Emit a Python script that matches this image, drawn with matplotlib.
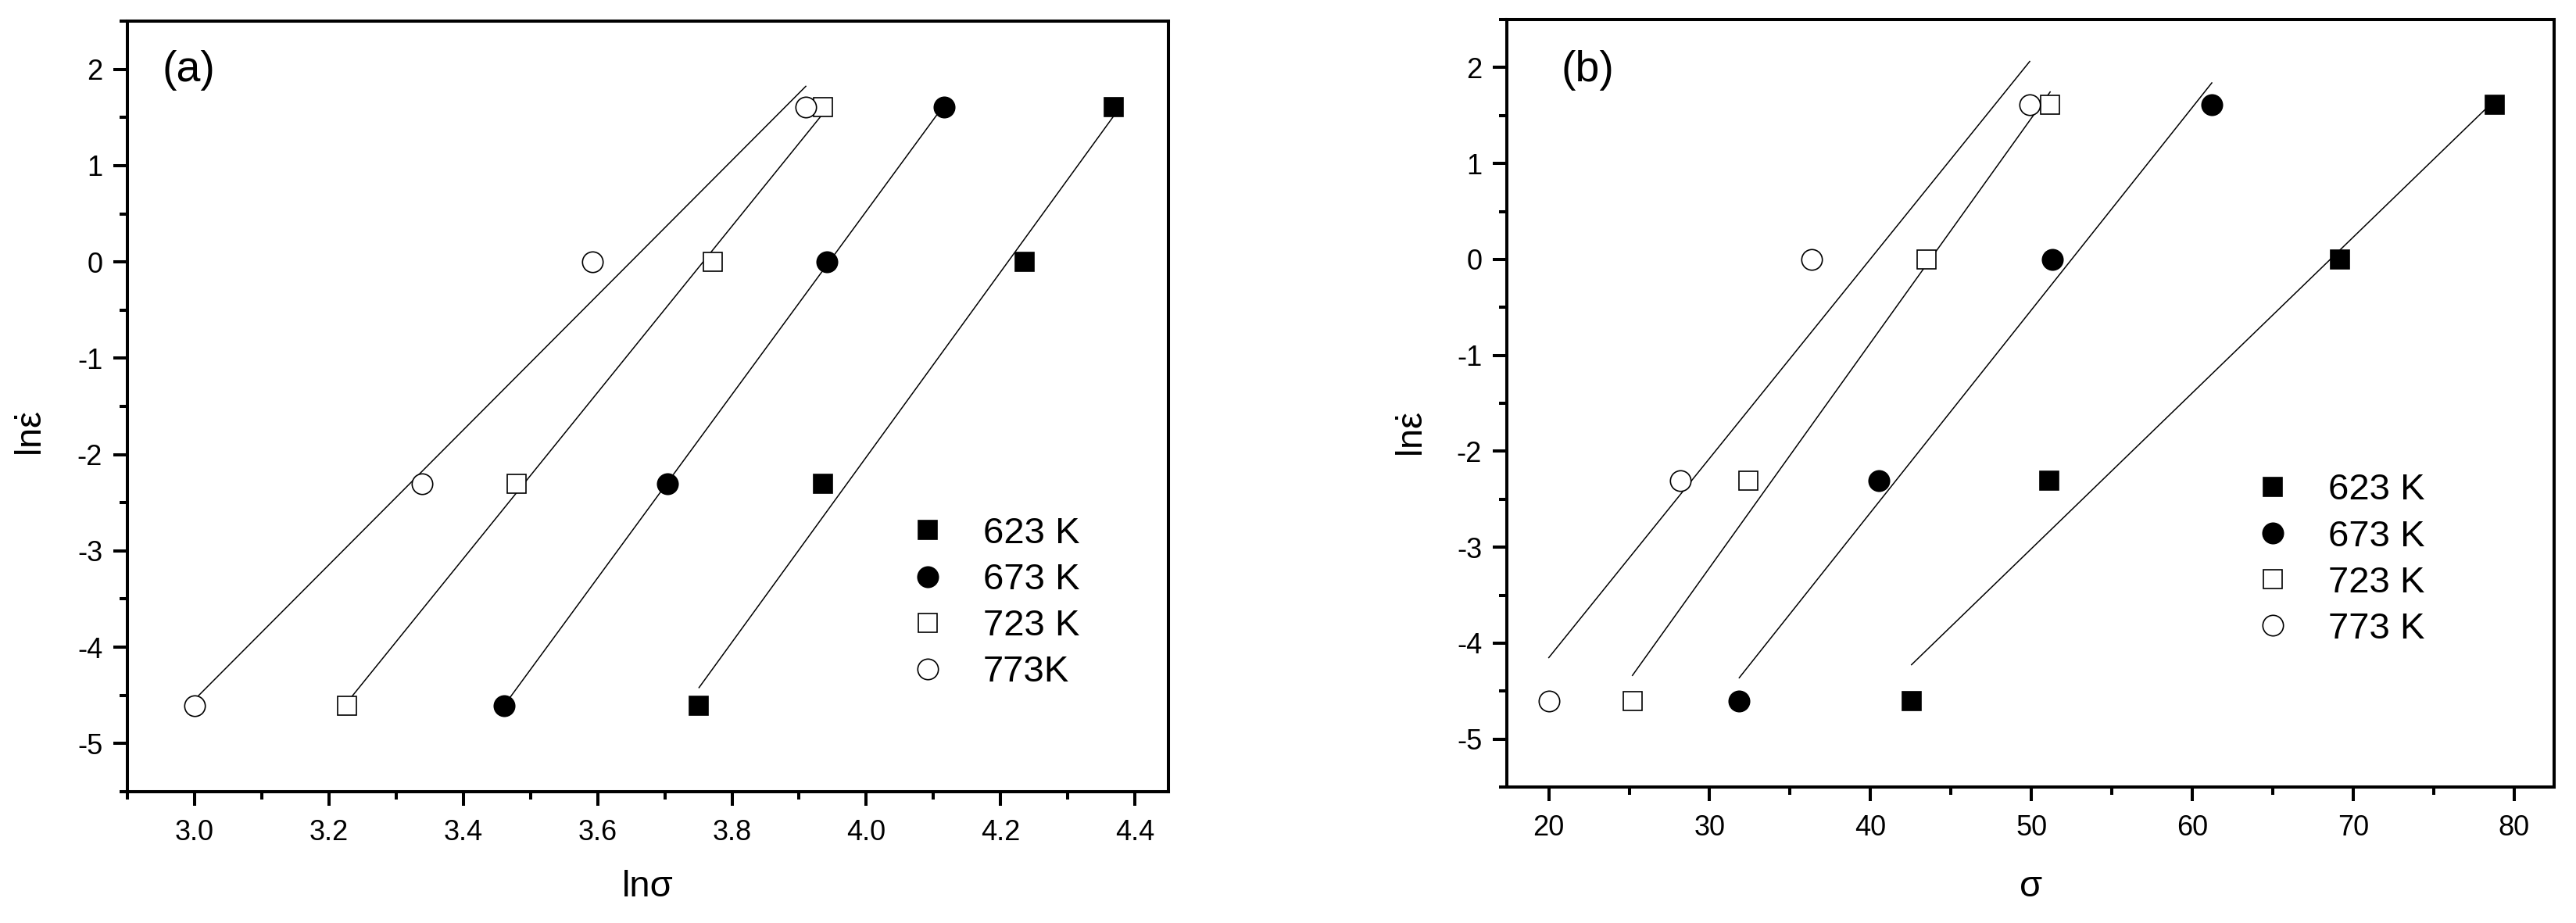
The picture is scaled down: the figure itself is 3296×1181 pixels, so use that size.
# Strain rate vs flow stress, two panels (ln-ln and ln-linear)
import numpy as np
import matplotlib
matplotlib.use("Agg")
import matplotlib.pyplot as plt
from matplotlib.ticker import MultipleLocator

# -----------------------------------------------------
# DATA
# -----------------------------------------------------
ln_rate = [-4.605, -2.303, 0.0, 1.609]

labels_a = ["623 K", "673 K", "723 K", "773K"]
labels_b = ["623 K", "673 K", "723 K", "773 K"]

# panel (a): ln(sigma)
ln_sigma_623 = [3.751, 3.936, 4.236, 4.369]
ln_sigma_673 = [3.461, 3.704, 3.941, 4.116]
ln_sigma_723 = [3.227, 3.479, 3.772, 3.936]
ln_sigma_773 = [3.000, 3.338, 3.592, 3.910]

# panel (b): sigma
sigma_623 = [42.55, 51.12, 69.18, 78.83]
sigma_673 = [31.84, 40.51, 51.33, 61.22]
sigma_723 = [25.20, 32.40, 43.47, 51.17]
sigma_773 = [20.00, 28.16, 36.33, 49.90]

plt.rcParams["font.family"] = ["Liberation Sans", "DejaVu Sans"]
plt.rcParams["mathtext.fontset"] = "custom"
plt.rcParams["mathtext.rm"] = "Liberation Sans"
plt.rcParams["mathtext.it"] = "Liberation Sans"
plt.rcParams["axes.unicode_minus"] = False

STYLES = [("s", "black", 17), ("o", "black", 19), ("s", "white", 17), ("o", "white", 19)]


# -----------------------------------------------------
# PANEL
# -----------------------------------------------------
def draw_panel(ax, series, labels):
    for xs, lab, (mk, fc, ms) in zip(series, labels, STYLES):
        xs = np.array(xs)
        slope, icpt = np.polyfit(xs, ln_rate, 1)
        xf = np.array([xs.min(), xs.max()])
        ax.plot(xf, slope * xf + icpt, color="black", lw=1.1, zorder=2)
        ax.plot(xs, ln_rate, linestyle="none", marker=mk, ms=ms,
                mfc=fc, mec="black", mew=1.2, label=lab, zorder=3)

    ax.set_ylim(-5.5, 2.5)
    ax.yaxis.set_major_locator(MultipleLocator(1))
    ax.yaxis.set_minor_locator(MultipleLocator(0.5))
    for sp in ax.spines.values():
        sp.set_linewidth(2.9)
    ax.tick_params(which="both", direction="out", top=False, right=False, width=2.9)
    ax.tick_params(which="major", length=13, labelsize=26)
    ax.tick_params(which="minor", length=7)
    ax.tick_params(axis="y", which="major", pad=10)
    ax.tick_params(axis="x", which="major", pad=12)


def add_legend(ax, x, y):
    ax.legend(loc="upper left", bbox_to_anchor=(x, y), frameon=False,
              fontsize=34, numpoints=1, handlelength=1.0, handletextpad=1.0,
              labelspacing=0.32, borderpad=0, borderaxespad=0)


# -----------------------------------------------------
# MAIN
# -----------------------------------------------------
def main():
    fig = plt.figure(figsize=(32.96, 11.81), dpi=100)
    ax_a = fig.add_axes([0.0495, 0.1423, 0.4041, 0.8348])
    ax_b = fig.add_axes([0.585, 0.1473, 0.4065, 0.8315])

    draw_panel(ax_a, [ln_sigma_623, ln_sigma_673, ln_sigma_723, ln_sigma_773], labels_a)
    ax_a.set_xlim(2.9, 4.45)
    ax_a.xaxis.set_major_locator(MultipleLocator(0.2))
    ax_a.xaxis.set_minor_locator(MultipleLocator(0.1))
    ax_a.xaxis.set_major_formatter(plt.FormatStrFormatter("%.1f"))
    ax_a.set_xlabel("lnσ", fontsize=34)
    ax_a.set_ylabel(r"ln$\dot{\varepsilon}$", fontsize=34)
    ax_a.xaxis.set_label_coords(0.5, -0.124)
    ax_a.xaxis.label.set_va("center")
    ax_a.yaxis.set_label_coords(-0.091, 0.4645)
    ax_a.yaxis.label.set_va("center")
    ax_a.text(0.033, 0.936, "(a)", transform=ax_a.transAxes, fontsize=40,
              ha="left", va="center")
    add_legend(ax_a, 0.751, 0.357)

    draw_panel(ax_b, [sigma_623, sigma_673, sigma_723, sigma_773], labels_b)
    ax_b.set_xlim(17.4, 82.5)
    ax_b.xaxis.set_major_locator(MultipleLocator(10))
    ax_b.xaxis.set_minor_locator(MultipleLocator(5))
    ax_b.set_xlabel("σ", fontsize=34)
    ax_b.set_ylabel(r"ln$\dot{\varepsilon}$", fontsize=34)
    ax_b.xaxis.set_label_coords(0.5, -0.13)
    ax_b.xaxis.label.set_va("center")
    ax_b.yaxis.set_label_coords(-0.089, 0.46)
    ax_b.yaxis.label.set_va("center")
    ax_b.text(0.0515, 0.934, "(b)", transform=ax_b.transAxes, fontsize=40,
              ha="left", va="center")
    add_legend(ax_b, 0.714, 0.409)

    fig.savefig("out.png", dpi=100)


if __name__ == "__main__":
    main()
